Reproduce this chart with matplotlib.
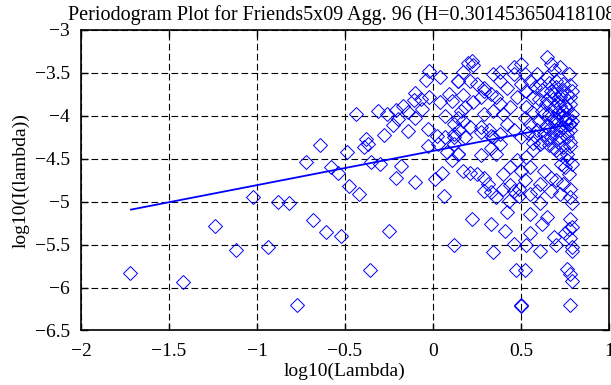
import numpy as np
import matplotlib.pyplot as plt

# periodogram points, low frequencies (sparse part)
low_log_lambda = [
    -1.72, -1.42, -1.24, -1.12, -1.02, -0.94, -0.88, -0.82, -0.77, -0.72,
    -0.68, -0.64, -0.61, -0.58, -0.54, -0.52, -0.48, -0.36, -0.25, -0.42,
    -0.49, -0.38, -0.39, -0.37, -0.35, -0.30, -0.28, -0.18, -0.21, -0.10,
    -0.14, -0.03, 0.02, 0.07, 0.12, 0.03, 0.12, 0.08, 0.14, 0.11,
    0.05, 0.01, 0.06, -0.03,
    -0.02, -0.04, 0.04, 0.14, -0.10, -0.11, -0.07, -0.02, 0.04, 0.09,
    0.11, -0.17, -0.14, -0.06, -0.44, -0.31, -0.26, -0.21, -0.20, -0.10,
    -0.23, 0.07,
]
low_log_I = [
    -5.83, -5.93, -5.28, -5.56, -4.95, -5.53, -5.00, -5.01, -6.20, -4.54,
    -5.21, -4.34, -5.35, -4.59, -4.67, -5.40, -4.82, -5.79, -5.34, -4.91,
    -4.42, -4.27, -4.36, -4.33, -4.54, -4.56, -4.22, -4.58, -4.72, -4.77,
    -4.18, -4.15, -4.24, -4.25, -4.25, -4.33, -4.33, -4.42, -4.44, -4.52,
    -4.66, -4.74, -4.93, -4.35,
    -3.48, -3.58, -3.55, -3.59, -3.73, -3.81, -3.80, -3.78, -3.84, -3.74,
    -3.83, -3.89, -3.95, -3.92, -3.98, -3.94, -3.98, -3.93, -4.04, -4.02,
    -4.11, -4.00,
]

# periodogram points, high frequencies (dense part)
high_log_lambda = [
    0.20, 0.23, 0.17, 0.14, 0.21, 0.25, 0.29, 0.33, 0.27, 0.23,
    0.18, 0.16, 0.14, 0.12, 0.17, 0.21, 0.15, 0.18, 0.27, 0.32,
    0.34, 0.38, 0.29, 0.34, 0.38, 0.36, 0.40, 0.42, 0.46, 0.50,
    0.44, 0.48, 0.42, 0.38, 0.46, 0.50, 0.52, 0.50, 0.53, 0.55,
    0.59, 0.61, 0.57, 0.53, 0.52, 0.55, 0.59, 0.63, 0.65, 0.67,
    0.69, 0.65, 0.70, 0.74, 0.67, 0.72, 0.76, 0.78, 0.74, 0.69,
    0.65, 0.63, 0.67, 0.70, 0.74, 0.78, 0.76, 0.79, 0.79, 0.72,
    0.67, 0.77, 0.79, 0.69, 0.71, 0.75, 0.71, 0.69, 0.75, 0.70,
    0.76, 0.77, 0.66, 0.73, 0.78, 0.22, 0.17, 0.29, 0.34, 0.38,
    0.46, 0.72,
    0.12, 0.27, 0.33, 0.38, 0.14, 0.17, 0.21, 0.25, 0.29, 0.31,
    0.29, 0.33, 0.40, 0.44, 0.46, 0.49, 0.52, 0.55, 0.44, 0.48,
    0.53, 0.57, 0.61, 0.65, 0.69, 0.72, 0.76, 0.79, 0.63, 0.67,
    0.70, 0.74, 0.61, 0.59, 0.67, 0.72, 0.78, 0.79, 0.42, 0.22,
    0.33, 0.55, 0.65, 0.78, 0.79, 0.41, 0.55, 0.69, 0.33, 0.36,
    0.27, 0.50, 0.40, 0.36, 0.43, 0.49, 0.55, 0.61, 0.62, 0.77,
    0.75, 0.77, 0.73, 0.78, 0.76, 0.78, 0.71,
    0.12, 0.34, 0.46, 0.53, 0.61, 0.70, 0.75, 0.78, 0.79, 0.79,
    0.47, 0.52, 0.50, 0.50, 0.76, 0.78, 0.79, 0.78,
]
high_log_I = [
    -3.38, -3.41, -3.49, -3.59, -3.59, -3.63, -3.71, -3.74, -3.78, -3.84,
    -3.90, -3.94, -4.02, -4.09, -4.06, -4.13, -4.17, -4.25, -4.13, -4.17,
    -4.25, -4.21, -3.98, -3.94, -3.86, -3.78, -3.98, -4.09, -4.17, -4.25,
    -3.90, -3.78, -3.67, -3.59, -3.51, -3.40, -3.51, -3.63, -3.71, -3.59,
    -3.51, -3.63, -3.78, -3.90, -4.02, -4.09, -4.17, -4.21, -3.32, -3.40,
    -3.47, -3.55, -3.59, -3.63, -3.71, -3.78, -3.74, -3.86, -3.94, -3.90,
    -3.82, -3.98, -4.06, -4.09, -4.13, -4.17, -4.02, -3.98, -4.06, -4.25,
    -4.25, -3.51, -3.71, -3.74, -3.84, -3.88, -3.96, -4.02, -4.06, -4.17,
    -4.25, -4.09, -4.15, -3.74, -3.78, -3.36, -3.76, -3.67, -3.51, -3.49,
    -3.43, -3.43,
    -4.21, -4.19, -4.23, -4.33, -4.44, -4.64, -4.66, -4.68, -4.72, -4.79,
    -4.87, -4.89, -4.85, -4.81, -4.87, -4.85, -4.75, -4.60, -4.60, -4.52,
    -4.48, -4.40, -4.33, -4.27, -4.37, -4.44, -4.52, -4.56, -4.64, -4.72,
    -4.75, -4.79, -4.79, -4.87, -4.87, -4.91, -4.95, -5.01, -5.12, -5.20,
    -5.26, -5.14, -5.18, -5.20, -5.30, -5.34, -5.36, -5.41, -4.37, -4.44,
    -4.46, -4.64, -4.68, -4.95, -4.99, -4.93, -4.91, -5.01, -5.26, -5.32,
    -4.60, -4.68, -4.56, -4.85, -4.45, -4.35, -4.30,
    -5.50, -5.59, -5.49, -5.51, -5.58, -5.50, -5.37, -5.42, -5.53, -5.57,
    -5.80, -5.80, -6.21, -6.20, -5.78, -5.84, -5.92, -6.20,
]

# extra points in the crowded cluster near the top frequencies
cluster_log_lambda = [
    0.58, 0.62, 0.66, 0.70, 0.74, 0.78, 0.60, 0.64, 0.68, 0.72,
    0.76, 0.62, 0.66, 0.70, 0.74, 0.78, 0.60, 0.64, 0.68, 0.72,
    0.76, 0.58, 0.62, 0.66, 0.70, 0.74, 0.78, 0.56, 0.54, 0.57,
]
cluster_log_I = [
    -3.66, -3.70, -3.62, -3.66, -3.70, -3.64, -3.80, -3.86, -3.80, -3.88,
    -3.92, -3.94, -3.98, -4.04, -4.00, -4.10, -4.06, -4.12, -4.20, -4.16,
    -4.20, -4.24, -4.30, -4.34, -4.40, -4.36, -4.30, -3.96, -4.20, -4.32,
]

# least squares line over the periodogram
fit_log_lambda = [-1.716, 0.793]
fit_log_I = [-5.092, -4.093]

x_ticks = [-2, -1.5, -1, -0.5, 0, 0.5, 1]
y_ticks = [-3, -3.5, -4, -4.5, -5, -5.5, -6, -6.5]


def tick_text(v):
    return f"{v:g}".replace("-", "\u2212")


plt.rcParams["font.family"] = ["Liberation Serif", "DejaVu Serif"]
plt.rcParams["font.size"] = 14

fig = plt.figure(figsize=(6.11, 3.85), dpi=100)
ax = fig.add_axes([0.1326, 0.1416, 0.8641, 0.7805])

all_x = low_log_lambda + high_log_lambda + cluster_log_lambda
all_y = low_log_I + high_log_I + cluster_log_I
ax.plot(all_x, all_y,
        linestyle="none", marker="D", markersize=7,
        markerfacecolor="none", markeredgecolor="blue", markeredgewidth=0.7)
ax.plot(fit_log_lambda, fit_log_I, color="blue", linewidth=1.3)

ax.set_xlim(-2, 1)
ax.set_ylim(-6.5, -3)
ax.set_xticks(x_ticks)
ax.set_xticklabels([tick_text(v) for v in x_ticks])
ax.set_yticks(y_ticks)
ax.set_yticklabels([tick_text(v) for v in y_ticks])
ax.tick_params(direction="in", length=5, width=1, top=True, right=True,
               labelsize=14)
ax.tick_params(axis="x", pad=9)
ax.tick_params(axis="y", pad=8)
for spine in ax.spines.values():
    spine.set_linewidth(1.2)

ax.grid(True, color="black", linestyle=(0, (6, 3)), linewidth=0.8)

ax.set_title("Periodogram Plot for Friends5x09 Agg. 96 (H=0.301453650418108)",
             fontsize=14.5, pad=7)
ax.set_xlabel("log10(Lambda)", fontsize=14, labelpad=2)
ax.set_ylabel("log10(I(lambda))", fontsize=14, labelpad=4)

fig.savefig("out.png", dpi=100)
